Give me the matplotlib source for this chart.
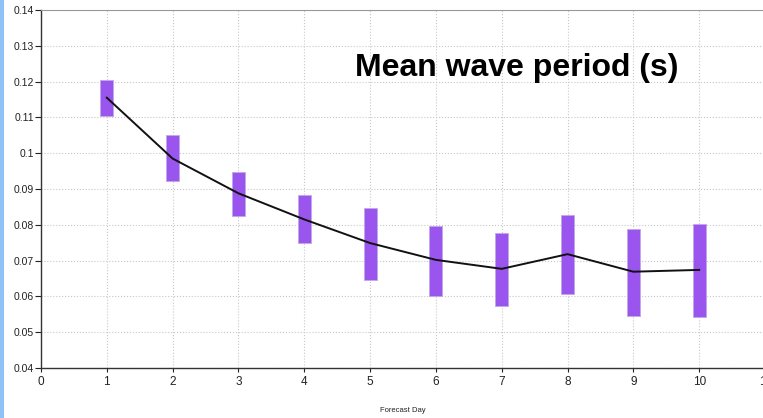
import matplotlib
matplotlib.use("Agg")
import matplotlib.pyplot as plt
from matplotlib.patches import Rectangle

days = [1, 2, 3, 4, 5, 6, 7, 8, 9, 10]
mean_vals = [0.1155, 0.0985, 0.0888, 0.0815, 0.0749, 0.0702, 0.0677, 0.0718, 0.0669, 0.0674]
low_vals = [0.1104, 0.0922, 0.0825, 0.0749, 0.0646, 0.0601, 0.0574, 0.0608, 0.0546, 0.0542]
high_vals = [0.1204, 0.1051, 0.0948, 0.0883, 0.0848, 0.0797, 0.0778, 0.0828, 0.0788, 0.0802]
yticks = [0.04, 0.05, 0.06, 0.07, 0.08, 0.09, 0.1, 0.11, 0.12, 0.13, 0.14]
ytick_labels = ["0.04", "0.05", "0.06", "0.07", "0.08", "0.09", "0.1", "0.11", "0.12", "0.13", "0.14"]
xticks = [0, 1, 2, 3, 4, 5, 6, 7, 8, 9, 10, 11]
title = "Mean wave period (s)"
xlabel = "Forecast Day"

plt.rcParams['font.family'] = ['Liberation Sans', 'DejaVu Sans']

fig = plt.figure(figsize=(7.63, 4.18), dpi=100)
fig.patches.append(Rectangle((0, 0), 4 / 763, 1, transform=fig.transFigure,
                             facecolor='#8fc3f7', edgecolor='none'))
ax = fig.add_axes([41 / 763, 50 / 418, 724 / 763, 358 / 418])

heights = [h - l for h, l in zip(high_vals, low_vals)]
ax.bar(days, heights, bottom=low_vals, width=0.2, color='#9a55ee',
       edgecolor='#c0a8e8', linewidth=0.6, zorder=3)
ax.plot(days, mean_vals, color='#111111', linewidth=1.4, zorder=4)

ax.set_xlim(0, 11)
ax.set_ylim(0.04, 0.14)
ax.set_yticks(yticks)
ax.set_yticklabels(ytick_labels)
ax.set_xticks(xticks)
ax.set_xticklabels([str(x) for x in xticks])
ax.tick_params(axis='y', labelsize=7.5, length=4, width=0.8, colors='#222222', pad=1)
ax.tick_params(axis='x', labelsize=8.5, length=3, width=0.8, colors='#222222', pad=3)
ax.grid(True, color='#c8c8c8', linestyle=':', linewidth=0.8, zorder=0)

ax.spines['left'].set_color('#333333')
ax.spines['bottom'].set_color('#333333')
ax.spines['top'].set_color('#999999')
ax.spines['right'].set_visible(False)
for s in ['left', 'bottom']:
    ax.spines[s].set_linewidth(1.0)
ax.spines['top'].set_linewidth(0.8)

fig.text(517 / 763, 1 - 68 / 418, title, fontsize=23,
         fontweight='bold', ha='center', va='center', color='black')
fig.text(403 / 763, 1 - 411 / 418, xlabel, fontsize=5.5, ha='center', va='center', color='#222222')

fig.savefig("out.png", dpi=100)
